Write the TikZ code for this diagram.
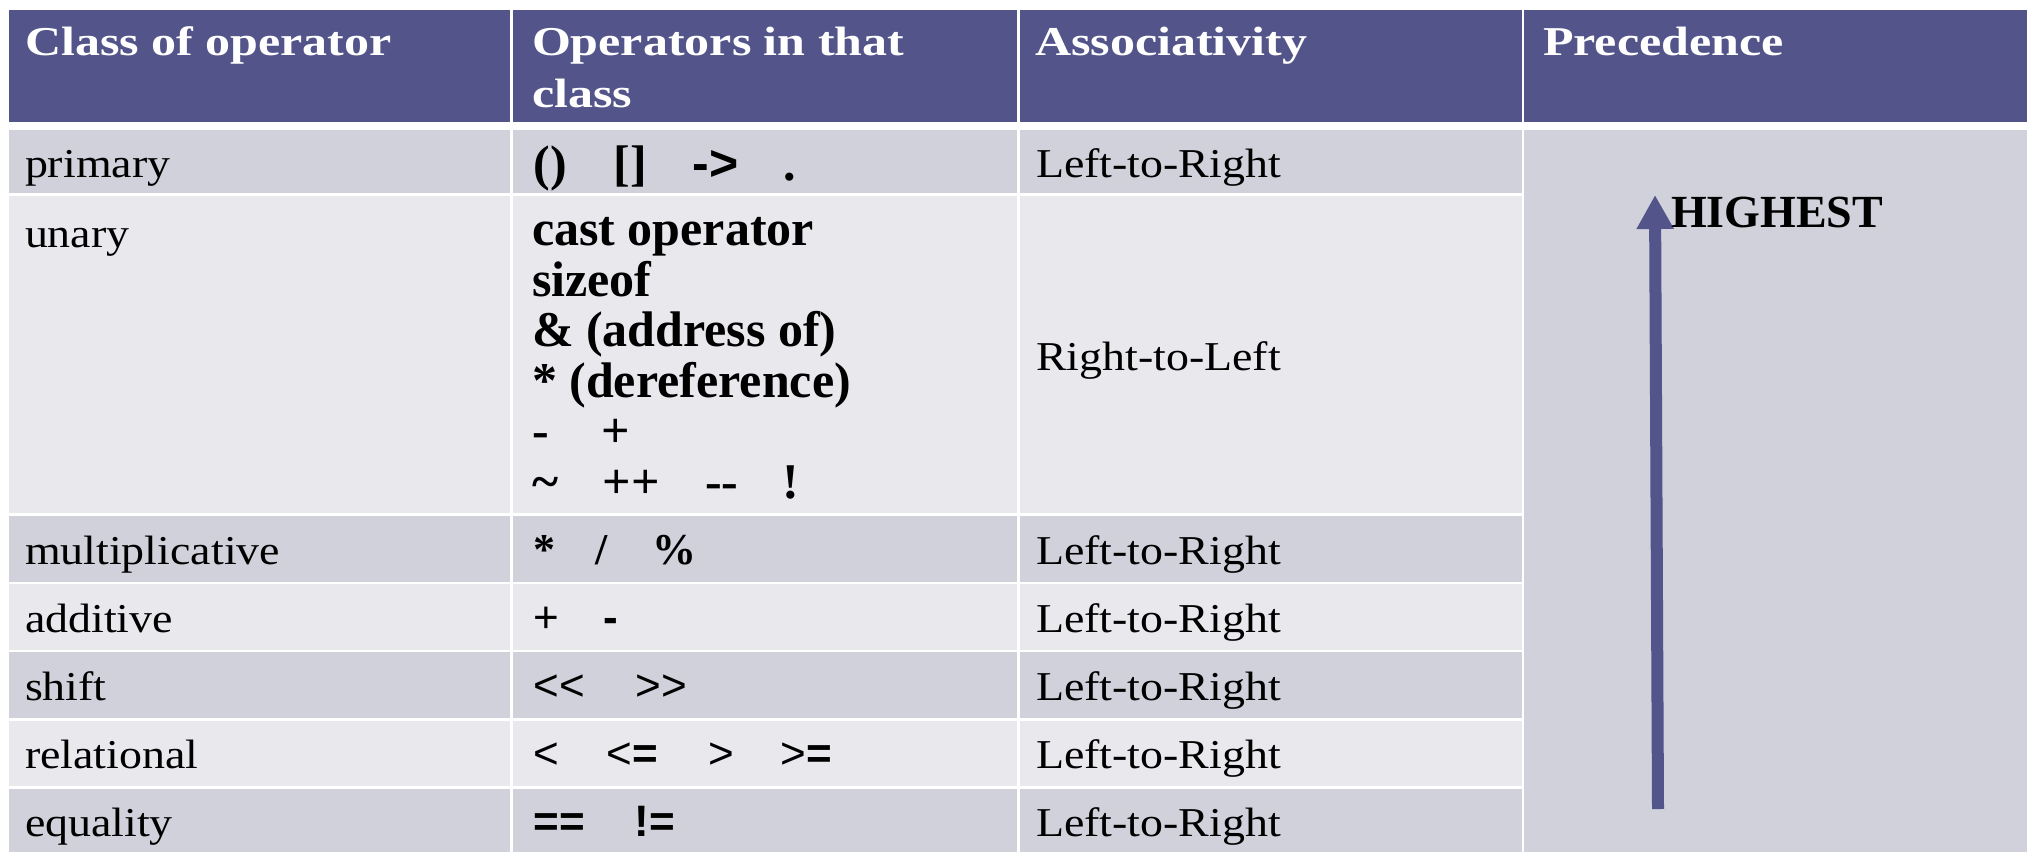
\documentclass[tikz,border=0pt]{standalone}
\usepackage{fontspec}
\setmainfont{Liberation Serif}[FakeStretch=1.12]
\newfontfamily\headfont{Liberation Serif}[FakeStretch=1.22]
\newfontfamily\opfont{Liberation Serif}
\newfontfamily\symfont{Liberation Sans}
\usetikzlibrary{arrows.meta}

\definecolor{hdr}{HTML}{53548A}
\definecolor{rowdark}{HTML}{D0D1DA}
\definecolor{rowlight}{HTML}{E8E8ED}

% place a piece of text at a fixed horizontal offset inside a line
\newcommand\opat[2]{\makebox[0pt][l]{\hspace{#1pt}#2}}

\tikzset{
  anytxt/.style={anchor=base west, inner sep=0pt, outer sep=0pt},
  hdtxt/.style={anytxt, text=white, align=left,
    font=\headfont\bfseries\fontsize{41}{52}\selectfont},
  bdtxt/.style={anytxt, font=\fontsize{41}{46}\selectfont},
  optxt/.style={anytxt, align=left, font=\opfont\bfseries\fontsize{50}{50.5}\selectfont},
  pcttxt/.style={anytxt, font=\opfont\bfseries\fontsize{44}{44}\selectfont},
  symtxt/.style={anytxt, font=\symfont\fontsize{44}{44}\selectfont},
  hitxt/.style={anytxt, font=\opfont\bfseries\fontsize{46}{46}\selectfont},
  arr/.style={draw=hdr, line width=12pt,
    -{Triangle[width=35pt, length=34pt]}, fill=hdr}
}

\begin{document}
\begin{tikzpicture}[x=1pt, y=-1pt]
\useasboundingbox (0,0) rectangle (2031,852);
\fill[white] (0,0) rectangle (2031,852);

% header band
\foreach \a/\b in {9/510, 513/1017, 1020/1522, 1524/2027}
  \fill[hdr] (\a,10) rectangle (\b,122);

% body rows, alternating shades
\foreach \t/\u/\c in {130/193/rowdark, 196/513/rowlight, 516/582/rowdark,
    584/650/rowlight, 652/718/rowdark, 721/786/rowlight, 789/852/rowdark}
  \foreach \a/\b in {9/510, 513/1017, 1020/1522}
    \fill[\c] (\a,\t) rectangle (\b,\u);

% precedence column spans all body rows
\fill[rowdark] (1524,130) rectangle (2027,852);

% header texts (a multi-line node sits on its last baseline)
\node[hdtxt] (hclass) at (25,55) {Class of operator};
\node[hdtxt] (hops) at (532,107) {Operators in that\\class};
\node[hdtxt] (hassoc) at (1035,55) {Associativity};
\node[hdtxt] (hprec) at (1543,55) {Precedence};

% class names
\node[bdtxt] (cprimary) at (25,177) {primary};
\node[bdtxt] (cunary) at (25,247) {unary};
\node[bdtxt] (cmult) at (25,564) {multiplicative};
\node[bdtxt] (cadd) at (25,632) {additive};
\node[bdtxt] (cshift) at (25,700) {shift};
\node[bdtxt] (crel) at (25,768) {relational};
\node[bdtxt] (ceq) at (25,836) {equality};

% operators
\node[optxt] (oprimary) at (533,180)
  {\opat{0}{()}\opat{80}{[]}\opat{159}{{\symfont\bfseries -}{\symfont >}}\opat{250}{.}};
\node[optxt] (ounary) at (532,498)
  {cast operator\\sizeof\\\& (address of)\\* (dereference)\\
   \opat{0}{-}\opat{70}{+}\\
   \opat{0}{\textasciitilde}\opat{71}{++}\opat{173}{-{}-}\opat{250}{!}};
\node[pcttxt] (omult) at (533,564) {\opat{0}{*}\opat{62}{/}\opat{119}{\%}};
\node[symtxt] (oadd) at (533,632) {\opat{0}{+}\opat{70}{\bfseries -}};
\node[symtxt] (oshift) at (533,700) {\opat{0}{<{}<}\opat{102}{>{}>}};
\node[symtxt] (orel) at (533,768)
  {\opat{0}{<}\opat{73}{<\textbf{=}}\opat{175}{>}\opat{247}{>\textbf{=}}};
\node[symtxt] (oeq) at (533,836) {\opat{0}{\bfseries ==}\opat{101}{\bfseries !=}};

% associativity
\node[bdtxt] (aprimary) at (1036,177) {Left-to-Right};
\node[bdtxt] (aunary) at (1036,370) {Right-to-Left};
\node[bdtxt] (amult) at (1036,564) {Left-to-Right};
\node[bdtxt] (aadd) at (1036,632) {Left-to-Right};
\node[bdtxt] (ashift) at (1036,700) {Left-to-Right};
\node[bdtxt] (arel) at (1036,768) {Left-to-Right};
\node[bdtxt] (aeq) at (1036,836) {Left-to-Right};

% precedence arrow
\coordinate (lowend) at (1658,809);
\coordinate (highend) at (1655,195);
\draw[arr] (lowend) -- (highend);
\node[hitxt] (highest) at (1671,227) {HIGHEST};
\end{tikzpicture}
\end{document}
